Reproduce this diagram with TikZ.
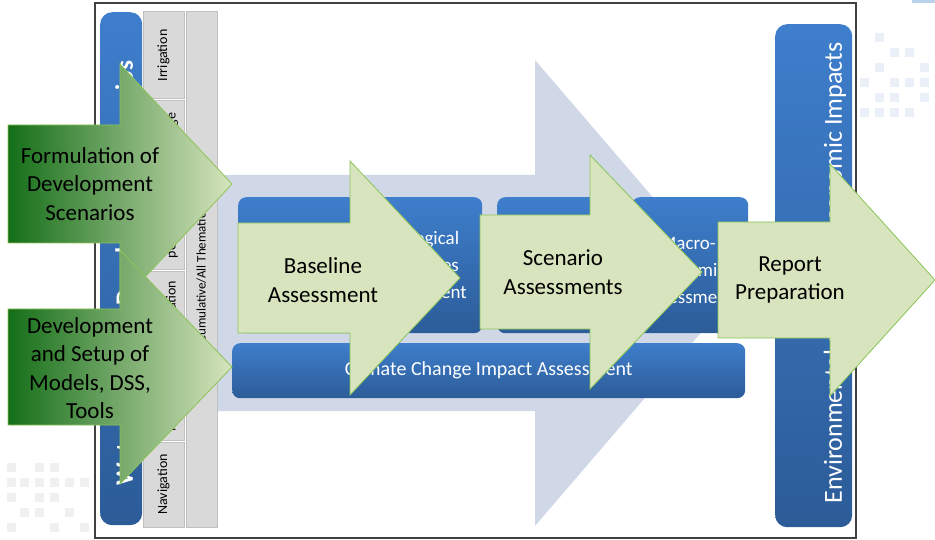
\documentclass[tikz,border=0pt]{standalone}
\usepackage{fontspec}
\setmainfont{Carlito}
\usetikzlibrary{positioning}

\definecolor{boxblue}{RGB}{62,126,204}
\definecolor{boxblueD}{RGB}{44,92,152}
\definecolor{flowbg}{RGB}{208,216,232}
\definecolor{colgray}{RGB}{217,217,217}
\definecolor{colline}{RGB}{192,192,192}
\definecolor{leaf}{RGB}{215,228,189}
\definecolor{leafline}{RGB}{140,196,88}
\definecolor{forest}{RGB}{20,110,24}
\definecolor{dotblue}{RGB}{234,239,248}
\definecolor{dotgray}{RGB}{240,240,240}

% block arrow: tail x, neck x, tip x, mid y, half body, half head
\newcommand{\blockarrow}[7][]{%
  \path[#1] (#2,#5-#6) -- (#3,#5-#6) -- (#3,#5-#7) -- (#4,#5)
    -- (#3,#5+#7) -- (#3,#5+#6) -- (#2,#5+#6) -- cycle;}

\tikzset{
  bluebox/.style={rounded corners=8pt, top color=boxblue, bottom color=boxblueD,
    draw=none, anchor=north west, inner sep=0pt},
  graycol/.style={fill=colgray, draw=colline, line width=1pt},
  steparrow/.style={fill=leaf, draw=leafline, line width=0.8pt},
  inarrow/.style={left color=forest, right color=leaf, draw=leafline, line width=0.8pt},
  steptext/.style={font=\fontsize{23}{28.5}\selectfont, align=center, text=black},
  boxtext/.style={font=\fontsize{19}{27}\selectfont, align=center, text=white},
  coltext/.style={font=\fontsize{14}{17}\selectfont, rotate=90, align=center},
}

\begin{document}
\begin{tikzpicture}[x=1pt, y=-1pt]
  \useasboundingbox (0,0) rectangle (935,540);

  % faint squares in the corners
  \foreach \x/\y in {875/33, 890/48, 905/48, 875/63, 920/63, 860/78, 890/78, 905/78,
      920/78, 875/93, 890/93, 920/93, 860/108, 875/108, 890/108, 905/108} {
    \fill[dotblue] (\x,\y) rectangle ++(9,9);
  }
  \foreach \x/\y in {7/463, 35/463, 50/463, 7/478, 20/478, 35/478, 50/478, 65/478,
      80/478, 7/493, 35/493, 50/493, 20/508, 35/508, 65/508, 7/523, 50/523, 80/523} {
    \fill[dotgray] (\x,\y) rectangle ++(9,9);
  }
  \fill[boxblue!35] (912,0) rectangle (935,3);

  \draw[black!75, line width=1.2pt] (95,3) rectangle (856,538);

  % large background arrow
  \blockarrow[fill=flowbg]{218}{535}{735}{293}{118}{233}

  % scenario bar and thematic columns
  \node[bluebox, rounded corners=12pt, minimum width=42pt, minimum height=513pt]
    (wrbar) at (100,12) {};
  \node[rotate=90, text=white, font=\fontsize{25}{28}\bfseries]
    (wrtext) at (126,273) {Water Resources Development Scenarios};

  \foreach \ya/\yb/\txt/\nm in {12/99/Irrigation/irr,
      101/270/{Hydro-\\power and Water Storage}/hyd,
      272/440/{Flood\\Management \& Mitigation}/fld,
      442/527/Navigation/nav} {
    \draw[graycol] (143,\ya) rectangle (184,\yb);
    \node[coltext] (\nm) at (163.5,{(\ya+\yb)/2}) {\txt};
  }
  \draw[graycol] (186,12) rectangle (217,527);
  \node[coltext, font=\fontsize{13}{16}\selectfont] (cum) at (201.5,278)
    {Cumulative/All Thematic};

  % assessment boxes
  \node[bluebox, minimum width=118pt, minimum height=136pt] (hydro) at (238,197) {};
  \node[bluebox, boxtext, minimum width=122pt, minimum height=136pt]
    (ecol) at (360,197) {Ecological\\Processes\\Assessment};
  \node[bluebox, minimum width=131pt, minimum height=136pt] (social) at (497,197) {};
  \node[bluebox, minimum width=116pt, minimum height=136pt] (macro) at (632,197) {};
  \node[boxtext] (macrotext) at (688,270) {Macro-\\economic\\Assessment};
  \node[bluebox, boxtext, font=\fontsize{20}{24}\selectfont, minimum width=513pt,
    minimum height=55pt] (climate) at (232,343) {Climate Change Impact Assessment};

  \node[bluebox, rounded corners=12pt, minimum width=77pt, minimum height=503pt]
    (impbar) at (775,24) {};
  \node[rotate=90, text=white, font=\fontsize{26}{28}\selectfont]
    (imptext) at (835,273) {Environmental and Socio-economic Impacts};

  % input arrows
  \blockarrow[inarrow]{8}{120}{232}{184}{59}{120}
  \node[steptext] (formul) at (90,184) {Formulation of\\Development\\Scenarios};
  \blockarrow[inarrow]{8}{120}{232}{367}{58}{117}
  \node[steptext] (setup) at (90,368) {Development\\and Setup of\\Models, DSS,\\Tools};

  % process arrows
  \blockarrow[steparrow]{238}{350}{460}{278}{55}{117}
  \node[steptext] (baseline) at (323,280) {Baseline\\Assessment};
  \blockarrow[steparrow]{480}{590}{702}{272}{57}{117}
  \node[steptext] (scen) at (563,272) {Scenario\\Assessments};
  \blockarrow[steparrow]{718}{830}{935}{280}{58}{116}
  \node[steptext] (report) at (790,280) {Report\\Preparation};
\end{tikzpicture}
\end{document}
